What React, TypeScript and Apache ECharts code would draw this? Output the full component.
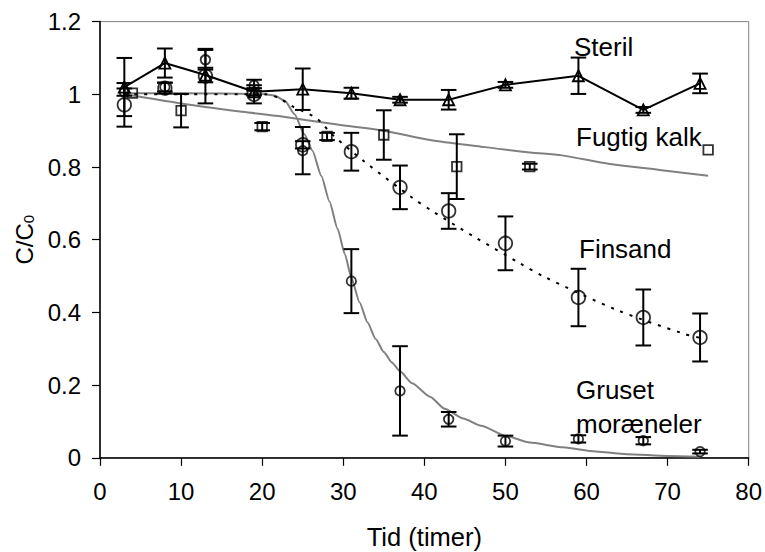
import React, { useEffect, useRef } from "react";
import * as echarts from "echarts";

// Sampling times (timer)
const timeX = [3, 8, 13, 19, 25, 31, 37, 43, 50, 59, 67, 74];
const kalkX = [4, 10, 20, 28, 35, 44, 53, 75];

// Steril (triangles, solid line)
const sterilY = [1.02, 1.086, 1.053, 1.007, 1.014, 1.003, 0.985, 0.985, 1.026, 1.051, 0.957, 1.03];
const sterilErr = [0.08, 0.04, 0.02, 0.01, 0.057, 0.015, 0.008, 0.027, 0.008, 0.05, 0.008, 0.027];

// Finsand (large circles)
const finsandY = [0.971, 1.017, 1.05, 1.0, 0.861, 0.842, 0.744, 0.679, 0.59, 0.441, 0.386, 0.331];
const finsandErr = [0.06, 0.015, 0.075, 0.025, 0.01, 0.052, 0.06, 0.049, 0.074, 0.079, 0.077, 0.066];

// Gruset moræneler (small circles)
const grusetY = [1.006, 1.02, 1.095, 1.025, 0.845, 0.486, 0.184, 0.106, 0.046, 0.052, 0.047, 0.017];
const grusetErr = [0.01, 0.012, 0.027, 0.015, 0.065, 0.088, 0.123, 0.02, 0.015, 0.01, 0.01, 0.005];

// Fugtig kalk (squares)
const kalkY = [1.003, 0.955, 0.911, 0.884, 0.888, 0.801, 0.801, 0.847];
const kalkErr = [0, 0.046, 0.01, 0.01, 0.068, 0.089, 0.008, 0];

// Fitted curves
const kalkFitX = [3, 10, 17.6, 22, 29.5, 35, 40.7, 47, 53, 57, 62.9, 69, 75];
const kalkFitY = [1.0, 0.975, 0.952, 0.94, 0.916, 0.9, 0.874, 0.856, 0.84, 0.832, 0.808, 0.792, 0.776];

const grusetFitX = [3, 10, 20, 21.5, 22.8, 24, 25.2, 26.2, 27.3, 28.3, 29.3, 30.2, 31, 32, 33, 34, 35, 36, 37, 38.5, 40.7, 42.5, 44.8, 47, 50.1, 53, 57.1, 60.4, 65, 70, 74];
const grusetFitY = [1.003, 1.003, 1.001, 0.997, 0.982, 0.945, 0.89, 0.845, 0.775, 0.705, 0.63, 0.56, 0.495, 0.428, 0.372, 0.327, 0.291, 0.262, 0.238, 0.205, 0.168, 0.135, 0.108, 0.088, 0.06, 0.042, 0.029, 0.019, 0.01, 0.005, 0.003];

const finsandFitX = [3, 20.5, 22.1, 23.8, 26.7, 28.7, 32.6, 38.6, 41.1, 46, 51.8, 54.6, 63.7, 71.9, 74];
const finsandFitY = [1.0, 1.0, 0.989, 0.966, 0.934, 0.888, 0.815, 0.714, 0.677, 0.61, 0.535, 0.5, 0.407, 0.342, 0.33];

const xTicks = { min: 0, max: 80, interval: 10 };
const yTicks = { min: 0, max: 1.2, interval: 0.2 };

const FONT = "'Liberation Sans', Arial, Helvetica, sans-serif";

const zip = (xs: number[], ys: number[]) => xs.map((x, i) => [x, ys[i]]);
const errData = (xs: number[], ys: number[], es: number[]) =>
  xs
    .map((x, i) => [x, ys[i] - es[i], ys[i] + es[i], es[i]])
    .filter((d) => d[3] > 0)
    .map((d) => [d[0], d[1], d[2]]);

const errSeries = (data: number[][]) => ({
  type: "custom",
  data,
  encode: { x: 0, y: [1, 2] },
  z: 3,
  silent: true,
  renderItem: (_params: any, api: any) => {
    const x = api.value(0);
    const lo = api.coord([x, api.value(1)]);
    const hi = api.coord([x, api.value(2)]);
    const w = 7.8;
    const style = { stroke: "#000", lineWidth: 2, fill: "none" };
    return {
      type: "group",
      children: [
        { type: "line", shape: { x1: lo[0], y1: lo[1], x2: hi[0], y2: hi[1] }, style },
        { type: "line", shape: { x1: lo[0] - w, y1: lo[1], x2: lo[0] + w, y2: lo[1] }, style },
        { type: "line", shape: { x1: hi[0] - w, y1: hi[1], x2: hi[0] + w, y2: hi[1] }, style },
      ],
    };
  },
});

const markerStyle = { color: "rgba(0,0,0,0)", borderColor: "#000", borderWidth: 1.8 };

export default function App() {
  const ref = useRef<HTMLDivElement>(null);
  useEffect(() => {
    if (!ref.current) return;
    const chart = echarts.init(ref.current, null, { renderer: "svg" });
    const annot = (text: string, x: number, y: number) => ({
      type: "text",
      x,
      y,
      style: { text, fill: "#000", fontSize: 26, fontFamily: FONT, align: "left", verticalAlign: "middle" },
    });
    chart.setOption({
      animation: false,
      backgroundColor: "#fff",
      grid: {
        left: 100,
        top: 21.6,
        right: 16.3,
        bottom: 94.2,
        show: true,
        borderColor: "#808080",
        borderWidth: 1,
        backgroundColor: "transparent",
        containLabel: false,
        outerBoundsMode: "none",
      },
      xAxis: {
        type: "value",
        min: xTicks.min,
        max: xTicks.max,
        interval: xTicks.interval,
        name: "Tid (timer)",
        nameLocation: "middle",
        nameGap: 66,
        nameTextStyle: { color: "#000", fontSize: 25.5, fontFamily: FONT },
        axisLine: { show: true, onZero: false, lineStyle: { color: "#000", width: 1.5 } },
        axisTick: { show: true, length: 8, lineStyle: { color: "#000", width: 1.2 } },
        axisLabel: { color: "#000", fontSize: 24, fontFamily: FONT, margin: 22 },
        splitLine: { show: false },
      },
      yAxis: {
        type: "value",
        min: yTicks.min,
        max: yTicks.max,
        interval: yTicks.interval,
        name: "{a|C/C}{b|0}",
        nameLocation: "middle",
        nameGap: 64,
        nameRotate: 90,
        nameTextStyle: {
          color: "#000",
          fontFamily: FONT,
          rich: {
            a: { fontSize: 24, fontFamily: FONT, color: "#000", lineHeight: 28, verticalAlign: "bottom" },
            b: { fontSize: 15, fontFamily: FONT, color: "#000", lineHeight: 15, verticalAlign: "bottom" },
          },
        },
        axisLine: { show: true, onZero: false, lineStyle: { color: "#000", width: 1.5 } },
        axisTick: { show: true, length: 8, lineStyle: { color: "#000", width: 1.2 } },
        axisLabel: { color: "#000", fontSize: 24, fontFamily: FONT, margin: 19 },
        splitLine: { show: false },
      },
      graphic: [
        annot("Steril", 574, 47),
        annot("Fugtig kalk", 576, 137),
        annot("Finsand", 579, 249),
        annot("Gruset", 576, 390),
        annot("moræneler", 576, 424),
      ],
      series: [
        {
          type: "line",
          name: "Fugtig kalk fit",
          data: zip(kalkFitX, kalkFitY),
          showSymbol: false,
          smooth: 0.3,
          lineStyle: { color: "#808080", width: 2 },
          z: 1,
          silent: true,
        },
        {
          type: "line",
          name: "Gruset fit",
          data: zip(grusetFitX, grusetFitY),
          showSymbol: false,
          smooth: 0.2,
          smoothMonotone: "x",
          lineStyle: { color: "#808080", width: 2 },
          z: 1,
          silent: true,
        },
        {
          type: "line",
          name: "Finsand fit",
          data: zip(finsandFitX, finsandFitY),
          showSymbol: false,
          smooth: 0.3,
          lineStyle: { color: "#000", width: 2, type: [3, 7] },
          z: 2,
          silent: true,
        },
        errSeries(errData(timeX, sterilY, sterilErr)),
        errSeries(errData(timeX, finsandY, finsandErr)),
        errSeries(errData(timeX, grusetY, grusetErr)),
        errSeries(errData(kalkX, kalkY, kalkErr)),
        {
          type: "line",
          name: "Steril",
          data: zip(timeX, sterilY),
          symbol: "triangle",
          symbolSize: 11,
          lineStyle: { color: "#000", width: 2 },
          itemStyle: markerStyle,
          z: 4,
        },
        {
          type: "scatter",
          name: "Finsand",
          data: zip(timeX, finsandY),
          symbol: "circle",
          symbolSize: 13.5,
          itemStyle: markerStyle,
          z: 4,
        },
        {
          type: "scatter",
          name: "Gruset moræneler",
          data: zip(timeX, grusetY),
          symbol: "circle",
          symbolSize: 9.5,
          itemStyle: markerStyle,
          z: 4,
        },
        {
          type: "scatter",
          name: "Fugtig kalk",
          data: zip(kalkX, kalkY),
          symbol: "rect",
          symbolSize: 9.5,
          itemStyle: markerStyle,
          z: 4,
        },
      ],
    });
    return () => chart.dispose();
  }, []);
  return (
    <div
      ref={ref}
      style={{ position: "fixed", left: 0, top: 0, width: 765, height: 552, background: "#fff" }}
    />
  );
}
